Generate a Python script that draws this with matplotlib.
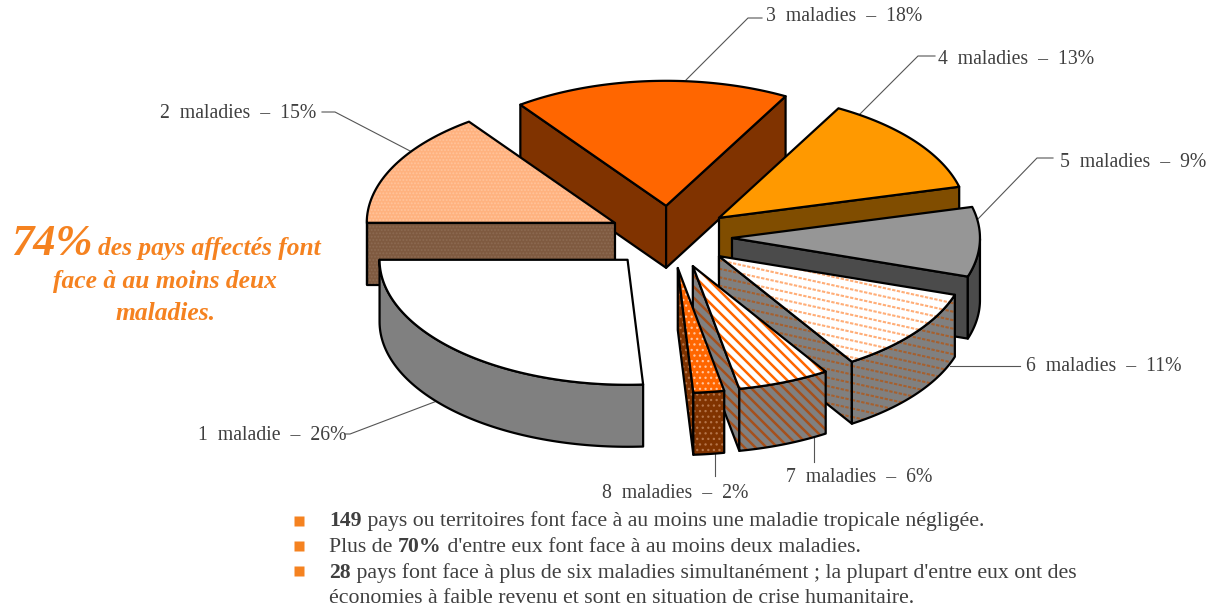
#!/usr/bin/env python3
"""Exploded 3D pie: number of neglected tropical diseases per affected country."""
import numpy as np
import matplotlib
matplotlib.use("Agg")
import matplotlib.pyplot as plt
from matplotlib.patches import Polygon

plt.rcParams["font.family"] = ["Liberation Serif", "DejaVu Serif"]
plt.rcParams["hatch.linewidth"] = 0.9

CATEGORIES = ["1 maladie", "2 maladies", "3 maladies", "4 maladies",
              "5 maladies", "6 maladies", "7 maladies", "8 maladies"]
SHARES = [26, 15, 18, 13, 9, 11, 6, 2]

# top colour, wall colour, pattern, pattern colour on top, pattern colour on wall
STYLE = [
    ("#FFFFFF", "#808080", None, None, None),
    ("#FFB27F", "#7F5A40", ".....", "#FFC49C", "#8C6A52"),
    ("#FF6600", "#803300", None, None, None),
    ("#FF9900", "#804D00", None, None, None),
    ("#969696", "#4B4B4B", None, None, None),
    ("#FFFFFF", "#808080", "shallow", "#FFAE78", "#A5602F"),
    ("#FFFFFF", "#808080", "steep", "#FF6600", "#A5501C"),
    ("#FF6600", "#803300", "...", "#FFC49C", "#B5754A"),
]
# slope, vertical spacing px, line width, dash pattern
STRIPES = {"shallow": (0.22, 8.5, 1.5, (1.6, 0.7)), "steep": (1.0, 11, 1.8, None)}
DRAW_ORDER = [2, 1, 3, 4, 5, 6, 7, 0]  # back to front

CX, CY = 670, 237
RX, RY, DEPTH = 248, 125, 62
EXPLODE = 0.25
START = 86.4  # angle of the first slice, degrees clockwise on screen

INK = "#3F3F3F"
ORANGE = "#F58220"
LINE = "#555555"
OUT = "black"


def arc(cx, cy, t0, t1, n=80):
    t = np.radians(np.linspace(t0, t1, n))
    return np.column_stack([cx + RX * np.cos(t), cy + RY * np.sin(t)])


def stripes(ax, patch, pts, kind, color, z):
    slope, step, lw, dash = STRIPES[kind]
    pts = np.asarray(pts)
    x0, x1 = pts[:, 0].min(), pts[:, 0].max()
    offs = pts[:, 1] - slope * pts[:, 0]
    for b in np.arange(offs.min() - (offs.min() % step), offs.max() + step, step):
        ln, = ax.plot([x0, x1], [slope * x0 + b, slope * x1 + b], color=color, lw=lw, zorder=z)
        if dash:
            ln.set_linestyle((0, dash))
        ln.set_clip_path(patch)


def face(ax, pts, color, pattern, pat_color, z):
    if pattern in STRIPES:
        patch = Polygon(pts, closed=True, facecolor=color, edgecolor="none", zorder=z)
        ax.add_patch(patch)
        stripes(ax, patch, pts, pattern, pat_color, z)
    elif pattern:
        ax.add_patch(Polygon(pts, closed=True, facecolor=color, edgecolor=pat_color,
                             hatch=pattern, lw=0, zorder=z))
    else:
        ax.add_patch(Polygon(pts, closed=True, facecolor=color, edgecolor="none", zorder=z))
    ax.add_patch(Polygon(pts, closed=True, fill=False, edgecolor=OUT, lw=1.6,
                         joinstyle="round", zorder=z))


def draw_slice(ax, i, t0, t1, z):
    top, wall, pat, pc_top, pc_wall = STYLE[i]
    mid = np.radians((t0 + t1) / 2)
    cx = CX + EXPLODE * RX * np.cos(mid)
    cy = CY + EXPLODE * RY * np.sin(mid)
    rim = arc(cx, cy, t0, t1)
    apex = np.array([cx, cy])
    drop = np.array([0, DEPTH])
    # cut faces that look towards the viewer
    if np.cos(np.radians(t0)) < 0:
        face(ax, [apex, rim[0], rim[0] + drop, apex + drop], wall, pat, pc_wall, z)
    if np.cos(np.radians(t1)) > 0:
        face(ax, [apex, rim[-1], rim[-1] + drop, apex + drop], wall, pat, pc_wall, z)
    # outer wall, front half of the ellipse only
    front = np.sin(np.radians(np.linspace(t0, t1, 80))) > 0
    if front.any():
        edge = rim[front]
        face(ax, np.vstack([edge, edge[::-1] + drop]), wall, pat, pc_wall, z)
    face(ax, np.vstack([apex, rim]), top, pat, pc_top, z + 0.5)


def rich(ax, fig, x, y, parts, size):
    """Left-aligned baseline text made of (string, weight) runs."""
    r = fig.canvas.get_renderer()
    pad = ax.text(0, 0, "|", fontsize=size)
    w0 = pad.get_window_extent(r).width
    pad.remove()
    for s, weight in parts:
        ax.text(x, y, s, fontsize=size, fontweight=weight, color=INK, va="baseline", zorder=30)
        m = ax.text(0, 0, s + "|", fontsize=size, fontweight=weight)
        x += m.get_window_extent(r).width - w0
        m.remove()


fig = plt.figure(figsize=(12.19, 6.07), dpi=100)
ax = fig.add_axes([0, 0, 1, 1])
ax.set_xlim(0, 1219); ax.set_ylim(607, 0); ax.axis("off")

edges = START + np.cumsum([0] + [s * 3.6 for s in SHARES])
for z, i in enumerate(DRAW_ORDER):
    draw_slice(ax, i, edges[i], edges[i + 1], 2 + z)

# labels: left x, baseline y
LABEL_POS = [(198, 440), (160, 118), (766, 21), (938, 64), (1060, 167), (1026, 371), (786, 482), (602, 498)]
for name, share, (x, y) in zip(CATEGORIES, SHARES, LABEL_POS):
    ax.text(x, y, f"{name.replace(' ', '  ')}  –  {share}%", fontsize=14.2, color=INK, va="baseline", zorder=30)

LEADERS = [
    [(437, 401), (350, 434), (345, 434)],
    [(412, 152), (335, 112), (322, 112)],
    [(686, 80), (748, 18), (762, 18)],
    [(858, 116), (918, 56), (935, 56)],
    [(977, 220), (1037, 158), (1053, 158)],
    [(950, 366), (1020, 366)],
    [(814, 436), (814, 462)],
    [(715, 454), (715, 476)],
]
for pts in LEADERS:
    xs, ys = zip(*pts)
    ax.plot(xs, ys, color=LINE, lw=0.8, zorder=1)

# orange call-out
ax.text(11, 255, "74%", fontsize=32, style="italic", fontweight="bold", color=ORANGE, va="baseline")
ax.text(98, 255, "des pays affectés font", fontsize=18.4, style="italic", fontweight="bold", color=ORANGE, va="baseline")
ax.text(165, 288, "face à au moins deux", fontsize=18.4, style="italic", fontweight="bold", color=ORANGE, va="baseline", ha="center")
ax.text(166, 320, "maladies.", fontsize=18.4, style="italic", fontweight="bold", color=ORANGE, va="baseline", ha="center")

# bullet notes
fig.canvas.draw()
NOTES = [
    (526, [("149", "bold"), (" pays ou territoires font face à au moins une maladie tropicale négligée.", "normal")]),
    (552, [("Plus de ", "normal"), ("70%", "bold"), (" d'entre eux font face à au moins deux maladies.", "normal")]),
    (578, [("28", "bold"), (" pays font face à plus de six maladies simultanément ; la plupart d'entre eux ont des", "normal")]),
    (603, [("économies à faible revenu et sont en situation de crise humanitaire.", "normal")]),
]
for y, parts in NOTES:
    rich(ax, fig, 329, y, parts, 15.7)
for y in (521, 546, 571):
    ax.plot([298.5], [y], marker="s", ms=7.9, color=ORANGE, mec="none", ls="none")

fig.savefig("out.png", dpi=100)
